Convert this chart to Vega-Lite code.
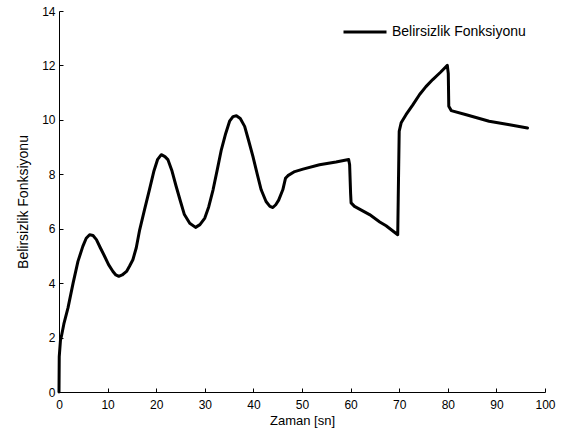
{
  "$schema": "https://vega.github.io/schema/vega-lite/v6.json",
  "width": 486,
  "height": 381,
  "autosize": "none",
  "padding": {"left": 59, "top": 11, "right": 21, "bottom": 45},
  "background": "white",
  "config": {
    "font": "Liberation Sans",
    "view": {"stroke": null},
    "axis": {
      "grid": false,
      "domainColor": "black",
      "domainWidth": 1,
      "tickColor": "black",
      "tickSize": -4,
      "labelColor": "black",
      "labelFontSize": 12,
      "labelFont": "Liberation Sans",
      "labelFlush": false,
      "titleColor": "black",
      "titleFontSize": 13,
      "titleFontWeight": "normal",
      "titleFont": "Liberation Sans"
    }
  },
  "data": {
    "values": [
      {"t": 0, "u": 0, "seri": "Belirsizlik Fonksiyonu"},
      {"t": 0.05, "u": 1.3, "seri": "Belirsizlik Fonksiyonu"},
      {"t": 0.3, "u": 1.9, "seri": "Belirsizlik Fonksiyonu"},
      {"t": 0.5, "u": 2.05, "seri": "Belirsizlik Fonksiyonu"},
      {"t": 1.0, "u": 2.5, "seri": "Belirsizlik Fonksiyonu"},
      {"t": 1.85, "u": 3.09, "seri": "Belirsizlik Fonksiyonu"},
      {"t": 2.9, "u": 4.0, "seri": "Belirsizlik Fonksiyonu"},
      {"t": 3.9, "u": 4.8, "seri": "Belirsizlik Fonksiyonu"},
      {"t": 4.9, "u": 5.35, "seri": "Belirsizlik Fonksiyonu"},
      {"t": 5.6, "u": 5.65, "seri": "Belirsizlik Fonksiyonu"},
      {"t": 6.3, "u": 5.78, "seri": "Belirsizlik Fonksiyonu"},
      {"t": 7.0, "u": 5.75, "seri": "Belirsizlik Fonksiyonu"},
      {"t": 7.7, "u": 5.6, "seri": "Belirsizlik Fonksiyonu"},
      {"t": 8.5, "u": 5.3, "seri": "Belirsizlik Fonksiyonu"},
      {"t": 9.4, "u": 4.98, "seri": "Belirsizlik Fonksiyonu"},
      {"t": 10.2, "u": 4.68, "seri": "Belirsizlik Fonksiyonu"},
      {"t": 11.1, "u": 4.43, "seri": "Belirsizlik Fonksiyonu"},
      {"t": 11.7, "u": 4.3, "seri": "Belirsizlik Fonksiyonu"},
      {"t": 12.3, "u": 4.25, "seri": "Belirsizlik Fonksiyonu"},
      {"t": 13.0, "u": 4.3, "seri": "Belirsizlik Fonksiyonu"},
      {"t": 13.9, "u": 4.43, "seri": "Belirsizlik Fonksiyonu"},
      {"t": 14.5, "u": 4.62, "seri": "Belirsizlik Fonksiyonu"},
      {"t": 15.2, "u": 4.86, "seri": "Belirsizlik Fonksiyonu"},
      {"t": 15.9, "u": 5.3, "seri": "Belirsizlik Fonksiyonu"},
      {"t": 16.6, "u": 5.96, "seri": "Belirsizlik Fonksiyonu"},
      {"t": 17.6, "u": 6.7, "seri": "Belirsizlik Fonksiyonu"},
      {"t": 18.6, "u": 7.43, "seri": "Belirsizlik Fonksiyonu"},
      {"t": 19.5, "u": 8.1, "seri": "Belirsizlik Fonksiyonu"},
      {"t": 20.3, "u": 8.55, "seri": "Belirsizlik Fonksiyonu"},
      {"t": 21.05, "u": 8.72, "seri": "Belirsizlik Fonksiyonu"},
      {"t": 21.8, "u": 8.65, "seri": "Belirsizlik Fonksiyonu"},
      {"t": 22.4, "u": 8.54, "seri": "Belirsizlik Fonksiyonu"},
      {"t": 23.2, "u": 8.15, "seri": "Belirsizlik Fonksiyonu"},
      {"t": 24.1, "u": 7.56, "seri": "Belirsizlik Fonksiyonu"},
      {"t": 25.0, "u": 7.0, "seri": "Belirsizlik Fonksiyonu"},
      {"t": 25.8, "u": 6.52, "seri": "Belirsizlik Fonksiyonu"},
      {"t": 26.9, "u": 6.2, "seri": "Belirsizlik Fonksiyonu"},
      {"t": 28.1, "u": 6.05, "seri": "Belirsizlik Fonksiyonu"},
      {"t": 29.0, "u": 6.15, "seri": "Belirsizlik Fonksiyonu"},
      {"t": 30.0, "u": 6.39, "seri": "Belirsizlik Fonksiyonu"},
      {"t": 30.8, "u": 6.8, "seri": "Belirsizlik Fonksiyonu"},
      {"t": 31.7, "u": 7.43, "seri": "Belirsizlik Fonksiyonu"},
      {"t": 32.6, "u": 8.2, "seri": "Belirsizlik Fonksiyonu"},
      {"t": 33.4, "u": 8.9, "seri": "Belirsizlik Fonksiyonu"},
      {"t": 34.3, "u": 9.5, "seri": "Belirsizlik Fonksiyonu"},
      {"t": 35.1, "u": 9.95, "seri": "Belirsizlik Fonksiyonu"},
      {"t": 35.8, "u": 10.12, "seri": "Belirsizlik Fonksiyonu"},
      {"t": 36.5, "u": 10.15, "seri": "Belirsizlik Fonksiyonu"},
      {"t": 37.3, "u": 10.05, "seri": "Belirsizlik Fonksiyonu"},
      {"t": 38.2, "u": 9.76, "seri": "Belirsizlik Fonksiyonu"},
      {"t": 39.0, "u": 9.25, "seri": "Belirsizlik Fonksiyonu"},
      {"t": 39.9, "u": 8.66, "seri": "Belirsizlik Fonksiyonu"},
      {"t": 40.8, "u": 8.0, "seri": "Belirsizlik Fonksiyonu"},
      {"t": 41.6, "u": 7.43, "seri": "Belirsizlik Fonksiyonu"},
      {"t": 42.6, "u": 7.0, "seri": "Belirsizlik Fonksiyonu"},
      {"t": 43.4, "u": 6.82, "seri": "Belirsizlik Fonksiyonu"},
      {"t": 44.0, "u": 6.78, "seri": "Belirsizlik Fonksiyonu"},
      {"t": 44.6, "u": 6.88, "seri": "Belirsizlik Fonksiyonu"},
      {"t": 45.2, "u": 7.05, "seri": "Belirsizlik Fonksiyonu"},
      {"t": 46.05, "u": 7.43, "seri": "Belirsizlik Fonksiyonu"},
      {"t": 46.6, "u": 7.85, "seri": "Belirsizlik Fonksiyonu"},
      {"t": 47.1, "u": 7.95, "seri": "Belirsizlik Fonksiyonu"},
      {"t": 48.5, "u": 8.1, "seri": "Belirsizlik Fonksiyonu"},
      {"t": 50.2, "u": 8.19, "seri": "Belirsizlik Fonksiyonu"},
      {"t": 53.6, "u": 8.35, "seri": "Belirsizlik Fonksiyonu"},
      {"t": 57.0, "u": 8.45, "seri": "Belirsizlik Fonksiyonu"},
      {"t": 59.6, "u": 8.54, "seri": "Belirsizlik Fonksiyonu"},
      {"t": 59.8, "u": 8.35, "seri": "Belirsizlik Fonksiyonu"},
      {"t": 60.0, "u": 7.3, "seri": "Belirsizlik Fonksiyonu"},
      {"t": 60.1, "u": 6.95, "seri": "Belirsizlik Fonksiyonu"},
      {"t": 60.8, "u": 6.82, "seri": "Belirsizlik Fonksiyonu"},
      {"t": 63.9, "u": 6.52, "seri": "Belirsizlik Fonksiyonu"},
      {"t": 66.0, "u": 6.25, "seri": "Belirsizlik Fonksiyonu"},
      {"t": 67.3, "u": 6.11, "seri": "Belirsizlik Fonksiyonu"},
      {"t": 69.7, "u": 5.78, "seri": "Belirsizlik Fonksiyonu"},
      {"t": 69.8, "u": 7.1, "seri": "Belirsizlik Fonksiyonu"},
      {"t": 70.0, "u": 9.58, "seri": "Belirsizlik Fonksiyonu"},
      {"t": 70.4, "u": 9.89, "seri": "Belirsizlik Fonksiyonu"},
      {"t": 71.4, "u": 10.19, "seri": "Belirsizlik Fonksiyonu"},
      {"t": 72.8, "u": 10.55, "seri": "Belirsizlik Fonksiyonu"},
      {"t": 74.2, "u": 10.93, "seri": "Belirsizlik Fonksiyonu"},
      {"t": 75.5, "u": 11.22, "seri": "Belirsizlik Fonksiyonu"},
      {"t": 76.9, "u": 11.48, "seri": "Belirsizlik Fonksiyonu"},
      {"t": 78.5, "u": 11.75, "seri": "Belirsizlik Fonksiyonu"},
      {"t": 79.9, "u": 12.0, "seri": "Belirsizlik Fonksiyonu"},
      {"t": 80.1, "u": 11.7, "seri": "Belirsizlik Fonksiyonu"},
      {"t": 80.2, "u": 10.5, "seri": "Belirsizlik Fonksiyonu"},
      {"t": 80.7, "u": 10.34, "seri": "Belirsizlik Fonksiyonu"},
      {"t": 83.8, "u": 10.19, "seri": "Belirsizlik Fonksiyonu"},
      {"t": 88.5, "u": 9.95, "seri": "Belirsizlik Fonksiyonu"},
      {"t": 92.7, "u": 9.82, "seri": "Belirsizlik Fonksiyonu"},
      {"t": 96.4, "u": 9.7, "seri": "Belirsizlik Fonksiyonu"}
    ]
  },
  "mark": {"type": "line", "strokeWidth": 3, "strokeJoin": "round", "strokeCap": "round"},
  "encoding": {
    "x": {
      "field": "t",
      "type": "quantitative",
      "scale": {"domain": [0, 100], "nice": false},
      "axis": {"values": [0, 10, 20, 30, 40, 50, 60, 70, 80, 90, 100], "title": "Zaman [sn]", "labelPadding": 11, "titlePadding": 4}
    },
    "y": {
      "field": "u",
      "type": "quantitative",
      "scale": {"domain": [0, 14], "nice": false},
      "axis": {"values": [0, 2, 4, 6, 8, 10, 12, 14], "title": "Belirsizlik Fonksiyonu", "titleFontSize": 14, "labelPadding": 8, "titlePadding": 11}
    },
    "color": {
      "field": "seri",
      "type": "nominal",
      "scale": {"range": ["black"]},
      "legend": {
        "title": null,
        "orient": "none",
        "legendX": 283,
        "legendY": -2,
        "padding": 0,
        "symbolType": "stroke",
        "symbolSize": 1849,
        "symbolStrokeWidth": 3,
        "labelFontSize": 14,
        "labelFont": "Liberation Sans",
        "labelColor": "black",
        "labelOffset": 4
      }
    }
  }
}
